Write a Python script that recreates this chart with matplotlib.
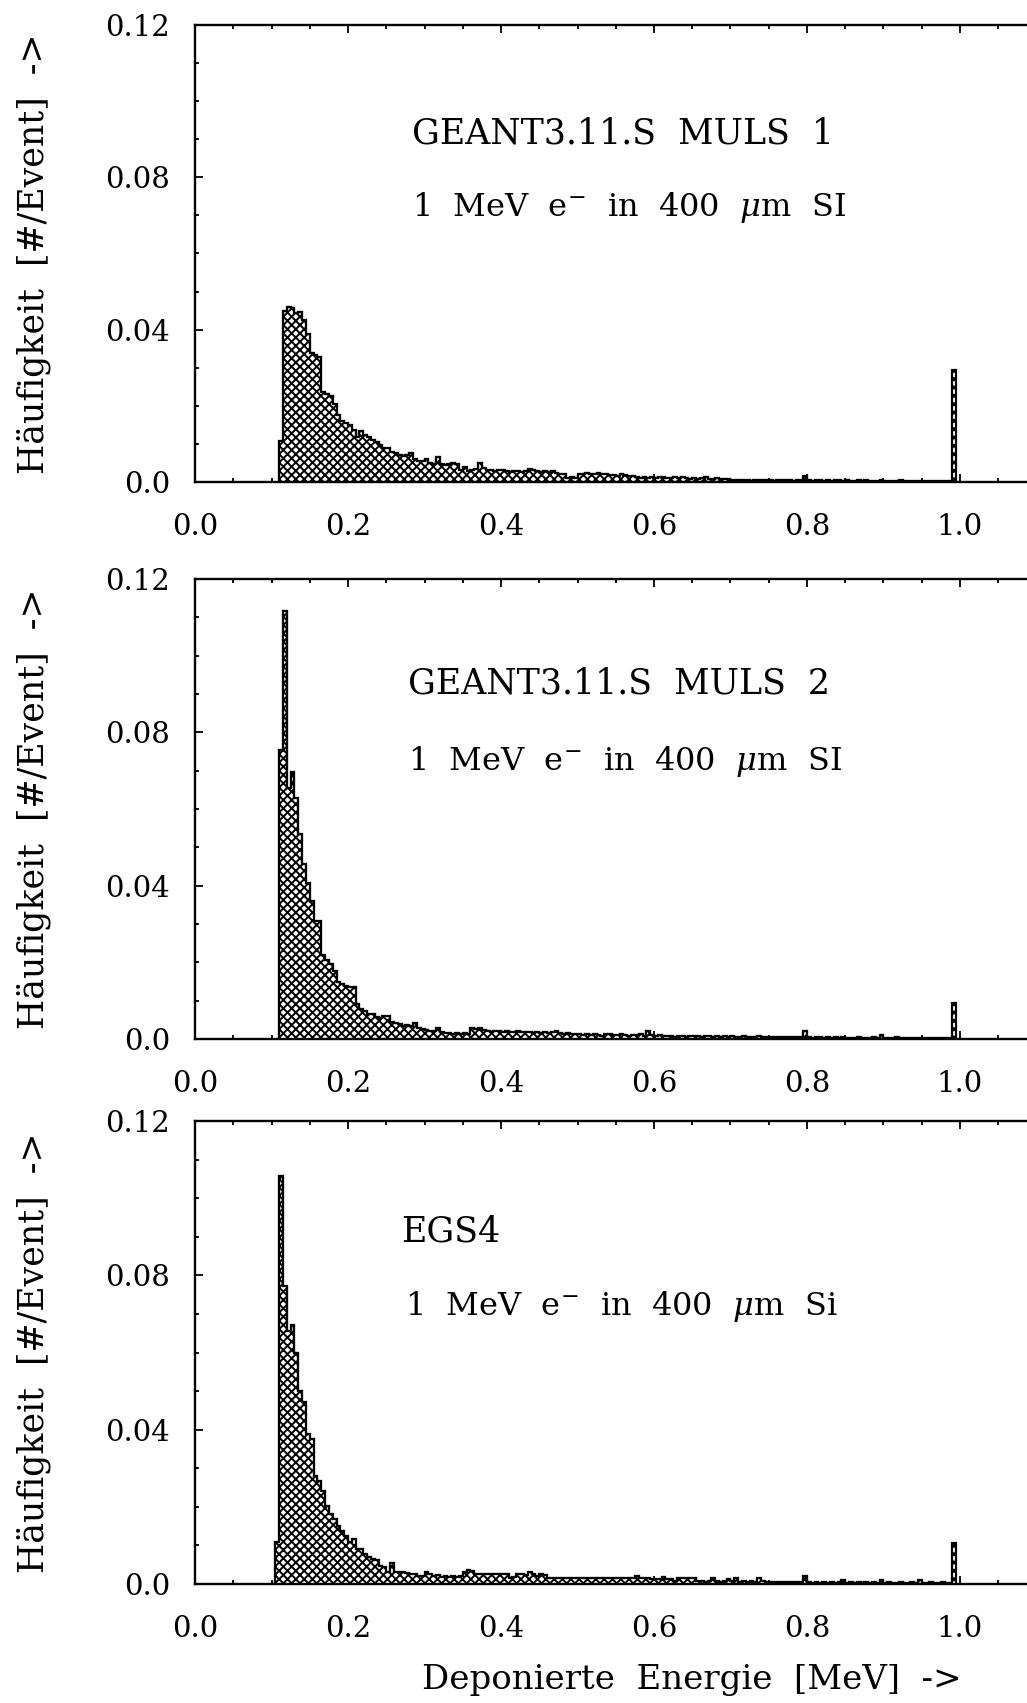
import matplotlib
matplotlib.use("Agg")
import matplotlib.pyplot as plt
from matplotlib.ticker import MultipleLocator
import numpy as np

plt.rcParams['font.family'] = 'DejaVu Serif'
plt.rcParams['mathtext.fontset'] = 'dejavuserif'
plt.rcParams['hatch.linewidth'] = 1.4

# ---- data: deposited energy spectra, bin width 0.005 MeV ----
bin_width = 0.005

# GEANT3.11.S MULS 1
muls1_start = 0.110
muls1_head = [0.0107, 0.0449, 0.0460, 0.0458, 0.0443, 0.0447, 0.0425, 0.0388, 0.0338, 0.0333,
              0.0329, 0.0237, 0.0232, 0.0226, 0.0206, 0.0175, 0.0160, 0.0156, 0.0149, 0.0136,
              0.0118, 0.0133, 0.0123, 0.0118, 0.0110, 0.0105, 0.0096, 0.0089, 0.0089, 0.0079,
              0.0075, 0.0070, 0.0068, 0.0070, 0.0077, 0.0061, 0.0054, 0.0054, 0.0061, 0.0051,
              0.0048, 0.0066, 0.0048, 0.0044, 0.0048, 0.0051, 0.0048, 0.0031, 0.0039, 0.0028,
              0.0032, 0.0035, 0.0051, 0.0037, 0.0031, 0.0032, 0.0028, 0.0032, 0.0031, 0.0028,
              0.0026]
muls1_tail = [0.0028, 0.0030, 0.0027, 0.0029, 0.0033, 0.0031,
              0.0028, 0.0027, 0.0029, 0.0026, 0.0028, 0.0024,
              0.0022, 0.0021, 0.0011, 0.0012, 0.0010,
              0.0022, 0.0020, 0.0023, 0.0021, 0.0022, 0.0024, 0.0020, 0.0021, 0.0019,
              0.0019, 0.0017, 0.0020, 0.0018, 0.0016, 0.0017,
              0.0012, 0.0011, 0.0013, 0.0010, 0.0012, 0.0011, 0.0013, 0.0012, 0.0010, 0.0011,
              0.0014, 0.0011, 0.0012, 0.0010,
              0.0009, 0.0011, 0.0008, 0.0010, 0.0012, 0.0009, 0.0008, 0.0010, 0.0009, 0.0007, 0.0008,
              0.0005, 0.0004, 0.0006, 0.0004, 0.0005, 0.0003, 0.0004, 0.0005, 0.0004, 0.0006,
              0.0004, 0.0003, 0.0005, 0.0004, 0.0004, 0.0005, 0.0003, 0.0004, 0.0005,
              0.0015,
              0.0004, 0.0003, 0.0004, 0.0005, 0.0003, 0.0004, 0.0003, 0.0004, 0.0005, 0.0003,
              0.0004, 0.0003, 0.0003, 0.0004, 0.0003, 0.0004, 0.0003, 0.0002, 0.0003, 0.0004,
              0.0003, 0.0003, 0.0002, 0.0003, 0.0004, 0.0003, 0.0002, 0.0003, 0.0003, 0.0002,
              0.0003, 0.0002, 0.0003, 0.0002, 0.0003, 0.0002, 0.0003, 0.0002]
muls1_full_peak = 0.0295

# GEANT3.11.S MULS 2
muls2_start = 0.110
muls2_head = [0.0754, 0.1116, 0.0655, 0.0696, 0.0630, 0.0535, 0.0457, 0.0406, 0.0359, 0.0309,
              0.0309, 0.0220, 0.0205, 0.0196, 0.0178, 0.0148, 0.0143, 0.0137, 0.0135, 0.0135,
              0.0091, 0.0078, 0.0074, 0.0066, 0.0064, 0.0057, 0.0055, 0.0060, 0.0061, 0.0045,
              0.0043, 0.0038, 0.0035, 0.0036, 0.0034, 0.0042, 0.0030, 0.0026, 0.0024, 0.0022,
              0.0020, 0.0030, 0.0018, 0.0016, 0.0015, 0.0014, 0.0016, 0.0013, 0.0016, 0.0012]
muls2_tail = [0.0030, 0.0026, 0.0028, 0.0024,
              0.0021, 0.0019, 0.0022, 0.0020, 0.0018, 0.0021, 0.0019, 0.0017, 0.0020, 0.0018,
              0.0017, 0.0018, 0.0016, 0.0019, 0.0015, 0.0017, 0.0016, 0.0018, 0.0021, 0.0016,
              0.0014, 0.0015,
              0.0013, 0.0012, 0.0014, 0.0011, 0.0013, 0.0010, 0.0012, 0.0011, 0.0009, 0.0012,
              0.0013, 0.0010, 0.0011, 0.0012, 0.0010, 0.0009, 0.0011, 0.0010, 0.0012, 0.0009,
              0.0020, 0.0010, 0.0009, 0.0010,
              0.0008, 0.0007, 0.0009, 0.0006, 0.0008, 0.0007, 0.0006, 0.0008, 0.0007, 0.0009,
              0.0006, 0.0007, 0.0008, 0.0006, 0.0007, 0.0005, 0.0007, 0.0006, 0.0008, 0.0006,
              0.0005, 0.0007, 0.0006, 0.0005, 0.0006, 0.0007, 0.0005, 0.0006, 0.0005, 0.0006,
              0.0004, 0.0005, 0.0006, 0.0004, 0.0005, 0.0004, 0.0005, 0.0020,
              0.0004, 0.0003, 0.0004, 0.0005, 0.0003, 0.0004, 0.0003, 0.0004, 0.0003, 0.0004,
              0.0003, 0.0002, 0.0003, 0.0004, 0.0003, 0.0002, 0.0003, 0.0004, 0.0003, 0.0010,
              0.0003, 0.0002, 0.0003, 0.0004, 0.0003, 0.0002, 0.0003, 0.0003, 0.0002, 0.0003,
              0.0002, 0.0003, 0.0002, 0.0003, 0.0002, 0.0003, 0.0002, 0.0003]
muls2_full_peak = 0.0095

# EGS4
egs4_start = 0.105
egs4_head = [0.0108, 0.1058, 0.0772, 0.0655, 0.0670, 0.0599, 0.0500, 0.0472, 0.0388, 0.0375,
             0.0280, 0.0267, 0.0241, 0.0203, 0.0181, 0.0168, 0.0151, 0.0138, 0.0125, 0.0108,
             0.0116, 0.0092, 0.0091, 0.0078, 0.0069, 0.0065, 0.0063, 0.0047, 0.0043, 0.0032,
             0.0054, 0.0030, 0.0030, 0.0030, 0.0028, 0.0026, 0.0026, 0.0022, 0.0022, 0.0032,
             0.0026, 0.0020, 0.0023, 0.0017, 0.0020, 0.0017, 0.0022, 0.0017, 0.0022]
egs4_tail = [0.0030, 0.0036, 0.0034,
             0.0026, 0.0025, 0.0026, 0.0026, 0.0025, 0.0026, 0.0026, 0.0025, 0.0026,
             0.0016, 0.0017,
             0.0025, 0.0027, 0.0024, 0.0030, 0.0025, 0.0022, 0.0026, 0.0023,
             0.0015, 0.0016, 0.0015, 0.0016, 0.0015, 0.0015, 0.0016, 0.0015, 0.0016, 0.0015,
             0.0015, 0.0016, 0.0015, 0.0016, 0.0015, 0.0015, 0.0016, 0.0015, 0.0016, 0.0015,
             0.0015, 0.0016, 0.0015, 0.0020, 0.0015, 0.0016, 0.0015, 0.0014,
             0.0012, 0.0013, 0.0018, 0.0013, 0.0012, 0.0008, 0.0016, 0.0016,
             0.0016, 0.0016, 0.0015, 0.0008,
             0.0007, 0.0006, 0.0008, 0.0015, 0.0007, 0.0006, 0.0007, 0.0014, 0.0007, 0.0015,
             0.0006, 0.0007, 0.0006, 0.0007, 0.0006, 0.0015, 0.0008, 0.0006, 0.0005, 0.0006,
             0.0005, 0.0006, 0.0005, 0.0005, 0.0004, 0.0005, 0.0004, 0.0020,
             0.0004, 0.0003, 0.0004, 0.0003, 0.0004, 0.0003, 0.0004, 0.0003, 0.0004, 0.0010,
             0.0003, 0.0004, 0.0003, 0.0004, 0.0003, 0.0004, 0.0003, 0.0004, 0.0003, 0.0010,
             0.0003, 0.0004, 0.0003, 0.0003, 0.0004, 0.0003, 0.0003, 0.0004, 0.0003, 0.0010,
             0.0003, 0.0003, 0.0004, 0.0003, 0.0003, 0.0004, 0.0003, 0.0003]
egs4_full_peak = 0.0105

full_peak_bin = 0.990   # lower edge of the 1 MeV full-absorption bin

titles = ["GEANT3.11.S  MULS  1", "GEANT3.11.S  MULS  2", "EGS4"]
subtitles = [r"1  MeV  e$^{-}$  in  400  $\mu$m  SI",
             r"1  MeV  e$^{-}$  in  400  $\mu$m  SI",
             r"1  MeV  e$^{-}$  in  400  $\mu$m  Si"]

xticks = [0.0, 0.2, 0.4, 0.6, 0.8, 1.0]
xticklabels = ["0.0", "0.2", "0.4", "0.6", "0.8", "1.0"]
yticks = [0.0, 0.04, 0.08, 0.12]
yticklabels = ["0.0", "0.04", "0.08", "0.12"]

panels = [
    (muls1_start, muls1_head + muls1_tail, muls1_full_peak),
    (muls2_start, muls2_head + muls2_tail, muls2_full_peak),
    (egs4_start, egs4_head + egs4_tail, egs4_full_peak),
]

# ---- figure ----
W, H = 1027, 1703
fig = plt.figure(figsize=(W / 100, H / 100), dpi=100, facecolor='white')

x0_px = 195
px_per_mev = 765
xmax = 1.2
ax_w = xmax * px_per_mev / W
# (top, bottom) pixel rows of each panel
rows = [(25, 482), (579, 1039), (1121, 1584)]
title_xy = [(0.284, 0.0915), (0.279, 0.0927), (0.270, 0.0914)]
sub_xy = [(0.284, 0.0722), (0.279, 0.0725), (0.274, 0.0718)]

for i, (start, vals, peak) in enumerate(panels):
    top, bot = rows[i]
    ax = fig.add_axes([x0_px / W, 1 - bot / H, ax_w, (bot - top) / H])

    edges = start + bin_width * np.arange(len(vals) + 1)
    ax.stairs(vals, edges, fill=True, facecolor='white', edgecolor='black',
              hatch='xxxx', linewidth=1.5, zorder=2)
    ax.stairs(vals, edges, fill=False, color='black', linewidth=1.6, zorder=3)
    ax.bar(full_peak_bin, peak, width=bin_width, align='edge', facecolor='white',
           edgecolor='black', hatch='xxxx', linewidth=1.6, zorder=3)

    ax.set_xlim(0, xmax)
    ax.set_ylim(0, 0.12)
    ax.set_xticks(xticks)
    ax.set_xticklabels(xticklabels)
    ax.xaxis.set_minor_locator(MultipleLocator(0.05))
    ax.set_yticks(yticks)
    ax.set_yticklabels(yticklabels)
    ax.yaxis.set_minor_locator(MultipleLocator(0.01))
    ax.tick_params(which='both', direction='in', top=True, right=True, width=1.3)
    ax.tick_params(which='major', length=6)
    ax.tick_params(which='minor', length=3)
    ax.tick_params(axis='x', which='major', labelsize=21, pad=22)
    ax.tick_params(axis='y', which='major', labelsize=21, pad=18)
    for sp in ax.spines.values():
        sp.set_linewidth(1.7)

    ax.text(title_xy[i][0], title_xy[i][1], titles[i], fontsize=25,
            ha='left', va='center')
    ax.text(sub_xy[i][0], sub_xy[i][1], subtitles[i], fontsize=23,
            ha='left', va='center')

    yc = 1 - (top + bot) / 2 / H
    fig.text(34 / W, yc, "Häufigkeit  [#/Event]  ->", rotation=90,
             fontsize=25, ha='center', va='center')

fig.text(692 / W, 1 - 1680 / H, "Deponierte  Energie  [MeV]  ->", fontsize=24.5,
         ha='center', va='center')

fig.savefig('out.png', dpi=100, facecolor='white')
